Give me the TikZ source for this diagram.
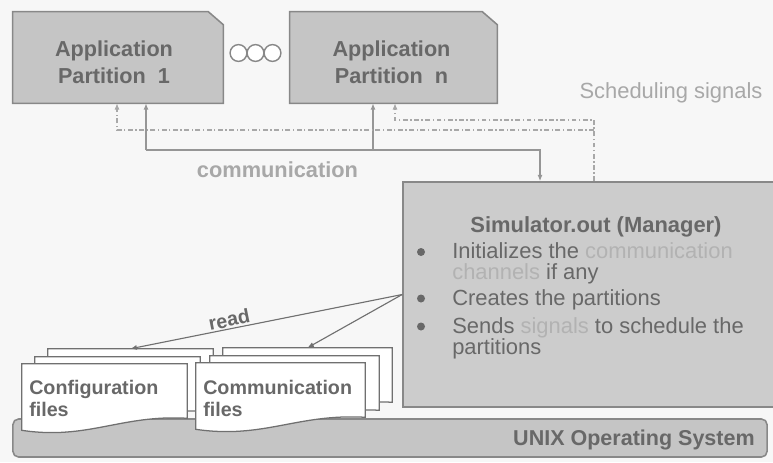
\documentclass[tikz,border=0pt]{standalone}
\usepackage{fontspec}
\setmainfont{Liberation Sans}
\usetikzlibrary{arrows.meta,positioning,calc}
\definecolor{paper}{RGB}{247,247,247}
\definecolor{boxgray}{RGB}{197,197,197}
\definecolor{mgrgray}{RGB}{204,204,204}
\definecolor{edgegray}{RGB}{136,136,136}
\definecolor{textgray}{RGB}{104,104,104}
\definecolor{softgray}{RGB}{168,168,168}
\definecolor{hilite}{RGB}{178,178,178}
\definecolor{wiregray}{RGB}{150,150,150}
\definecolor{readgray}{RGB}{112,112,112}

\begin{document}
\begin{tikzpicture}[x=0.025cm,y=-0.025cm,>={Latex[length=4.5pt,width=3.6pt]},
  every node/.style={inner sep=0pt,text=textgray},
  partbox/.style={minimum height=2.275cm},
  partline/.style={draw=edgegray,fill=boxgray,line width=1.1pt},
  parttext/.style={align=center,font=\fontsize{15.4}{19.2}\selectfont\bfseries},
  ring/.style={circle,draw=edgegray,fill=white,line width=1pt,minimum size=0.42cm},
  mgrbox/.style={draw=edgegray,fill=mgrgray,line width=1.1pt,minimum width=9.425cm,minimum height=5.625cm},
  mgrtitle/.style={font=\fontsize{15.6}{18}\selectfont\bfseries},
  bullet/.style={circle,fill=textgray,minimum size=0.2cm},
  itemtext/.style={align=left,font=\fontsize{15.6}{15.2}\selectfont},
  osbar/.style={draw=edgegray,fill=boxgray,line width=1.1pt,rounded corners=4pt,minimum width=18.85cm,minimum height=0.95cm},
  ostext/.style={font=\fontsize{15.3}{18}\selectfont\bfseries},
  docbox/.style={minimum height=1.65cm},
  docline/.style={draw=readgray,fill=white,line width=0.9pt},
  filetext/.style={align=left,font=\fontsize{14}{15.6}\selectfont\bfseries},
  commline/.style={draw=wiregray,line width=0.9pt},
  schedline/.style={draw=softgray,line width=0.8pt,dash pattern=on 3.5pt off 1.8pt on 0.9pt off 1.8pt},
  readline/.style={draw=readgray,line width=0.8pt},
  softlbl/.style={text=softgray,font=\fontsize{15.6}{18}\selectfont}]
\useasboundingbox (0,0) rectangle (773,462);
\fill[paper] (0,0) rectangle (773,462);
\node[partbox,minimum width=5.25cm] (p1) at (118,57.5) {};
\draw[partline] (p1.south west) -- (p1.north west) -- ($(p1.north east)+(-15,0)$) -- ($(p1.north east)+(0,13)$) -- (p1.south east) -- cycle;
\node[parttext] (p1txt) at (114,62) {Application\\Partition\ \ 1};
\node[partbox,minimum width=5.175cm] (pn) at (393.5,57.5) {};
\draw[partline] (pn.south west) -- (pn.north west) -- ($(pn.north east)+(-15,0)$) -- ($(pn.north east)+(0,13)$) -- (pn.south east) -- cycle;
\node[parttext] (pntxt) at (391.5,62) {Application\\Partition\ \ n};
\node[ring] (o1) at (238.5,53) {};
\node[ring] (o2) at (255.5,53) {};
\node[ring] (o3) at (272.5,53) {};
\node[softlbl,anchor=base] (schedlbl) at (671,98) {Scheduling signals};
\node[softlbl,font=\fontsize{15.5}{18}\selectfont\bfseries,anchor=base] (commlbl) at (277.5,177) {communication};
\node[mgrbox] (mgr) at (591.5,294.5) {};
\node[mgrtitle,anchor=base] (mgrtxt) at (596,232) {Simulator.out (Manager)};
\node[bullet] (b1) at (421,252) {};
\node[itemtext,anchor=north west] (it1) at (452,242) {Initializes the \textcolor{hilite}{communication}\\\textcolor{hilite}{channels} if any};
\node[bullet] (b2) at (421,298.5) {};
\node[itemtext,anchor=north west] (it2) at (452,289) {Creates the partitions};
\node[bullet] (b3) at (421,326.5) {};
\node[itemtext,anchor=north west] (it3) at (452,317) {Sends \textcolor{hilite}{signals} to schedule the\\partitions};
\node[osbar] (os) at (390,438) {};
\node[ostext,anchor=base east] (ostxt) at (755,445) {UNIX Operating System};
\node[docbox,minimum width=4.125cm] (cfg3) at (130.5,382) {};
\draw[docline] (cfg3.north west) -- (cfg3.north east) -- ($(cfg3.south east)+(0,-12)$) .. controls ($(cfg3.south)+(17,-16)$) and ($(cfg3.south)+(-17,10)$) .. (cfg3.south west) -- cycle;
\node[docbox,minimum width=4.125cm] (cfg2) at (117.5,390) {};
\draw[docline] (cfg2.north west) -- (cfg2.north east) -- ($(cfg2.south east)+(0,-12)$) .. controls ($(cfg2.south)+(17,-16)$) and ($(cfg2.south)+(-17,10)$) .. (cfg2.south west) -- cycle;
\node[docbox,minimum width=4.125cm] (cfg1) at (104.5,397) {};
\draw[docline] (cfg1.north west) -- (cfg1.north east) -- ($(cfg1.south east)+(0,-12)$) .. controls ($(cfg1.south)+(17,-16)$) and ($(cfg1.south)+(-17,10)$) .. (cfg1.south west) -- cycle;
\node[filetext,anchor=north west] (cfgtxt) at (29,380) {Configuration\\files};
\node[docbox,minimum width=4.225cm] (com3) at (307.5,381) {};
\draw[docline] (com3.north west) -- (com3.north east) -- ($(com3.south east)+(0,-12)$) .. controls ($(com3.south)+(17,-16)$) and ($(com3.south)+(-17,10)$) .. (com3.south west) -- cycle;
\node[docbox,minimum width=4.225cm] (com2) at (294.5,389) {};
\draw[docline] (com2.north west) -- (com2.north east) -- ($(com2.south east)+(0,-12)$) .. controls ($(com2.south)+(17,-16)$) and ($(com2.south)+(-17,10)$) .. (com2.south west) -- cycle;
\node[docbox,minimum width=4.225cm] (com1) at (280.5,396) {};
\draw[docline] (com1.north west) -- (com1.north east) -- ($(com1.south east)+(0,-12)$) .. controls ($(com1.south)+(17,-16)$) and ($(com1.south)+(-17,10)$) .. (com1.south west) -- cycle;
\node[filetext,anchor=north west] (comtxt) at (203,380) {Communication\\files};
\coordinate (comm1) at (146,150);
\coordinate (commN) at (373,150);
\coordinate (commM) at (540,150);
\draw[commline,->] (comm1) -- (comm1 |- p1.south);
\draw[commline,->] (commN) -- (commN |- pn.south);
\draw[commline,->] (comm1) -- (commM) -- (commM |- mgr.north);
\coordinate (sched1) at (117,130);
\coordinate (schedB) at (594,130);
\coordinate (schedN) at (395,120);
\coordinate (schedM) at (594,120);
\draw[schedline,->] (schedM |- mgr.north) -- (schedM) -- (schedN) -- (schedN |- pn.south);
\draw[schedline,->] (schedB) -- (sched1) -- (sched1 |- p1.south);
\draw[readline,->] (mgr.west) -- (cfg3.north) node[pos=0.63,above=1pt,sloped,text=textgray,font=\fontsize{14}{16}\selectfont\bfseries] (readlbl) {read};
\draw[readline,->] (mgr.west) -- (com3.north);
\end{tikzpicture}
\end{document}
